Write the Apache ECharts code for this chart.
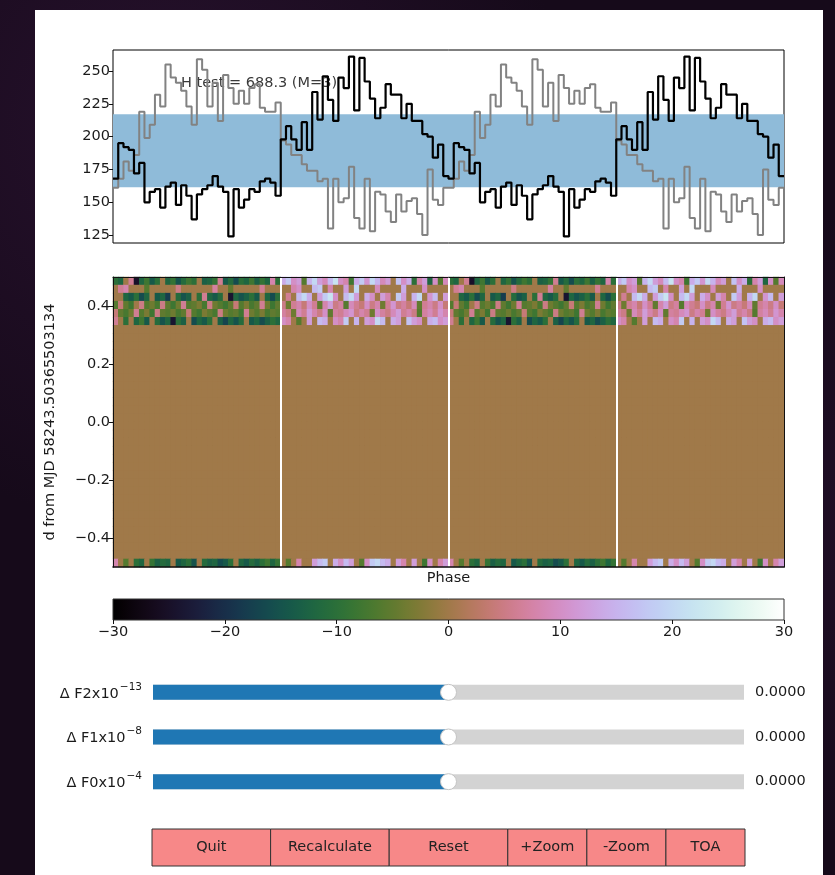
<!DOCTYPE html>
<html>
<head>
<meta charset="utf-8">
<script src="https://cdn.jsdelivr.net/npm/echarts@6/dist/echarts.min.js"></script>
<style>
  html, body { margin: 0; padding: 0; width: 835px; height: 875px; overflow: hidden; }
  body {
    background:
      radial-gradient(circle at 20% 15%, rgba(70, 30, 80, 0.35), transparent 40%),
      radial-gradient(circle at 90% 60%, rgba(60, 25, 70, 0.3), transparent 35%),
      #160a1a;
  }
  #panel { position: absolute; left: 35px; top: 10px; width: 788px; height: 865px; background: #fff; }
  #chart { position: absolute; left: 0; top: 0; width: 835px; height: 875px; }
</style>
</head>
<body>
<div id="panel"></div>
<div id="chart"></div>
<script>
// ---- pulse profile (one rotation, 64 phase bins; shown twice) ----
const profileBins = 64;
const phaseCycles = 2;
const profileCurrent = [
  168,195,192,190,172,180,150,158,160,146,162,165,148,163,155,137,156,160,163,170,162,158,124,160,146,152,160,158,166,168,165,155,
  198,208,198,190,211,190,234,213,246,228,212,245,237,261,220,260,242,229,214,222,240,232,232,214,225,212,212,202,200,184,194,170
];
const profileInitial = [
  161,168,181,174,186,219,199,209,232,223,255,245,241,235,223,209,259,251,223,241,212,247,237,225,235,225,237,240,222,219,219,226,
  197,194,186,186,179,174,174,166,168,130,168,150,153,177,138,130,168,128,158,156,143,135,156,143,151,153,141,125,175,152,148,161
];
const profileRange = [119, 266];
const profileTicks = [125, 150, 175, 200, 225, 250];
const meanBand = [161.5, 217];
const hTestText = 'H test = 688.3 (M=3)';

// ---- phaseogram residuals ----
const timeRows = 36;
const timeRange = [-0.5, 0.5];
const timeTicks = [-0.4, -0.2, 0.0, 0.2, 0.4];
const timeLabel = 'd from MJD 58243.50365503134';
const phaseLabel = 'Phase';
const phaseMarkers = [0.5, 1.0, 1.5];
const filledRows = [0, 1, 2, 3, 4, 5, 35];
const residualRows = [
  [-10,-12,0,6,-25,-12,-8,-14,-10,0,-12,-9,-15,-11,-8,-10,0,-13,-12,-9,6,-14,-11,-16,-10,-12,-8,-13,-9,-12,8,-10,
   14,18,10,12,-6,15,20,12,9,16,22,10,8,-8,14,18,11,20,15,9,12,0,17,10,14,-10,8,12,-12,10,-6,9],
  [0,6,8,0,0,0,-6,0,0,0,0,0,5,0,0,0,0,0,0,7,0,0,-5,0,0,0,0,0,6,0,0,0,
   0,0,8,10,0,0,16,18,0,8,0,0,12,0,20,0,0,0,9,0,0,0,0,14,0,0,0,10,0,0,0,0],
  [0,0,-12,-14,-10,-16,-12,0,-14,-12,-18,0,-11,-15,-13,0,-10,6,-12,-14,-11,0,-24,-12,-15,-13,-10,-14,0,-12,-16,-10,
   0,6,0,16,20,14,0,12,18,22,10,0,16,20,12,0,14,10,0,12,8,0,18,12,0,15,20,0,11,16,0,12],
  [-6,4,-5,-8,0,5,-6,-4,-7,5,-5,-8,-4,6,-6,-5,-3,-7,5,-4,-6,-8,-5,4,-6,-3,-7,-5,6,-4,-8,-5,
   5,-4,6,8,4,10,6,-5,8,12,5,7,-6,9,6,4,10,5,8,-4,6,11,5,7,4,9,-5,6,8,5,10,4],
  [4,-5,-7,-4,6,-6,-3,-8,5,-5,-6,-4,-7,-5,4,-6,-8,-3,-5,-7,5,-4,-6,-5,-8,6,-4,-6,-3,-7,-5,-6,
   7,5,-4,9,6,12,8,5,10,-5,7,6,9,11,5,8,6,-4,10,7,5,9,12,6,8,5,-6,7,9,6,11,8],
  [6,0,-10,0,-12,-8,-14,0,-11,-15,-12,-24,-10,-13,0,-16,-12,-14,-10,0,-13,-17,-12,-15,-11,0,-14,-12,-16,-13,-10,-12,
   10,8,0,-6,0,12,0,16,14,0,10,8,18,0,15,0,12,10,20,16,0,14,12,0,17,12,10,0,14,16,10,12],
  [8,0,-6,0,-10,-12,0,-9,-13,-11,-12,0,-14,-12,-10,-15,0,-11,-13,-12,-16,-14,-10,0,-12,-14,-11,-13,-10,-8,-12,-9,
   0,-6,0,8,0,0,12,16,18,0,14,10,16,12,0,-6,10,18,20,16,14,0,12,8,0,12,0,-8,10,0,8,12]
];
const colorRange = [-30, 30];
const colorTicks = [-30, -20, -10, 0, 10, 20, 30];

// ---- controls ----
const sliderNames = ['F2', 'F1', 'F0'];
const sliderExponents = ['-13', '-8', '-4'];
const sliderValues = [0, 0, 0];
const sliderRange = [-1, 1];
const buttonLabels = ['Quit', 'Recalculate', 'Reset', '+Zoom', '-Zoom', 'TOA'];
const buttonWeights = [3, 3, 3, 2, 2, 2];

// ---- helpers ----
const FONT = 'DejaVu Sans';
const FS = 14.5;
const minus = s => String(s).replace('-', '\u2212');

// matplotlib "cubehelix" colormap (gamma 1, s 0.5, r -1.5, h 1)
function cubehelix(x) {
  const a = x * (1 - x) / 2;
  const phi = 2 * Math.PI * (0.5 / 3 - 1.5 * x);
  const c = Math.cos(phi), s = Math.sin(phi);
  const r = x + a * (-0.14861 * c + 1.78277 * s);
  const g = x + a * (-0.29227 * c - 0.90649 * s);
  const b = x + a * (1.97294 * c);
  const q = v => Math.round(255 * Math.min(1, Math.max(0, v)));
  return 'rgb(' + q(r) + ',' + q(g) + ',' + q(b) + ')';
}
const cmapColors = [];
for (let i = 0; i <= 64; i++) cmapColors.push(cubehelix(i / 64));
const zeroColor = cubehelix(0.5);

function stepPoints(vals) {
  const pts = [];
  for (let k = 0; k < phaseCycles; k++) {
    vals.forEach((v, i) => pts.push([(k * profileBins + i) / profileBins, v]));
  }
  pts.push([phaseCycles, vals[vals.length - 1]]);
  return pts;
}

const nCols = profileBins * phaseCycles;
const colCats = Array.from({ length: nCols }, (_, i) => i);
const rowCats = Array.from({ length: timeRows }, (_, i) => i);
const heatData = [];
for (let r = 0; r < timeRows; r++) {
  const k = filledRows.indexOf(r);
  for (let c = 0; c < nCols; c++) {
    heatData.push([c, r, k >= 0 ? residualRows[k][c % profileBins] : 0]);
  }
}

const colorbarFill = new echarts.graphic.LinearGradient(0, 0, 1, 0,
  cmapColors.map((col, i) => ({ offset: i / (cmapColors.length - 1), color: col })));

const labelStyle = { color: '#1a1a1a', fontFamily: FONT, fontSize: FS };

// slider captions as rich text: "Δ F2x10" with a raised exponent
const sliderCats = sliderNames.map((n, i) => '{b|\u0394 ' + n + 'x10}{s|' + minus(sliderExponents[i]) + '}');
const sliderRich = {
  b: { fontFamily: FONT, fontSize: FS, color: '#1a1a1a', lineHeight: 22, verticalAlign: 'bottom', padding: [0, 0, 2, 0] },
  s: { fontFamily: FONT, fontSize: 10.5, color: '#1a1a1a', lineHeight: 12, verticalAlign: 'top', padding: [0, 0, 0, 1] }
};

// buttons laid out as a row of weighted cells
const btnLeft = 152, btnTop = 829, btnW = 593, btnH = 37;
const wSum = buttonWeights.reduce((a, b) => a + b, 0);
const buttonGraphics = [];
let bx = btnLeft;
buttonLabels.forEach((lab, i) => {
  const w = btnW * buttonWeights[i] / wSum;
  buttonGraphics.push({
    type: 'group', x: bx, y: btnTop,
    children: [
      { type: 'rect', shape: { x: 0, y: 0, width: w, height: btnH },
        style: { fill: '#f78888', stroke: '#333', lineWidth: 1 } },
      { type: 'text', x: w / 2, y: btnH / 2,
        style: { text: lab, fill: '#222', font: FS + 'px "' + FONT + '"', align: 'center', verticalAlign: 'middle' } }
    ]
  });
  bx += w;
});

const chart = echarts.init(document.getElementById('chart'), null, { renderer: 'canvas' });

const option = {
  backgroundColor: 'transparent',
  animation: false,
  textStyle: { fontFamily: FONT },
  grid: [
    { left: 113, top: 50, width: 671, height: 193, show: true, borderColor: '#000', borderWidth: 1, backgroundColor: '#fff' },
    { left: 113, top: 277, width: 671, height: 290, show: true, borderWidth: 0, backgroundColor: zeroColor },
    { left: 113, top: 599, width: 671, height: 21, show: true, borderColor: '#333', borderWidth: 1, backgroundColor: colorbarFill },
    { left: 153, top: 670, width: 591, height: 134 }
  ],
  xAxis: [
    { gridIndex: 0, type: 'value', min: 0, max: phaseCycles, show: false },
    { gridIndex: 1, type: 'category', data: colCats, show: false },
    { gridIndex: 1, type: 'value', min: 0, max: phaseCycles, position: 'bottom', z: 10,
      axisLine: { show: true, onZero: false, lineStyle: { color: '#111', width: 1.5 } },
      axisTick: { show: false }, axisLabel: { show: false }, splitLine: { show: false },
      name: phaseLabel, nameLocation: 'middle', nameGap: 4, nameTextStyle: labelStyle },
    { gridIndex: 1, type: 'value', min: 0, max: phaseCycles, position: 'top', z: 10,
      axisLine: { show: true, onZero: false, lineStyle: { color: '#111', width: 1 } },
      axisTick: { show: false }, axisLabel: { show: false }, splitLine: { show: false } },
    { gridIndex: 2, type: 'value', min: colorRange[0], max: colorRange[1], position: 'bottom',
      axisLine: { show: false, onZero: false },
      axisTick: { show: true, length: 4, inside: false, customValues: colorTicks, lineStyle: { color: '#111' } },
      axisLabel: { show: true, margin: 5, customValues: colorTicks, formatter: v => minus(v), ...labelStyle },
      splitLine: { show: false } },
    { gridIndex: 3, type: 'value', min: sliderRange[0], max: sliderRange[1], show: false }
  ],
  yAxis: [
    { gridIndex: 0, type: 'value', min: profileRange[0], max: profileRange[1],
      axisLine: { show: false, onZero: false },
      axisTick: { show: true, length: 4, inside: false, customValues: profileTicks, lineStyle: { color: '#111' } },
      axisLabel: { show: true, margin: 3, customValues: profileTicks, ...labelStyle },
      splitLine: { show: false } },
    { gridIndex: 1, type: 'category', data: rowCats, inverse: true, show: false },
    { gridIndex: 1, type: 'value', min: timeRange[0], max: timeRange[1], position: 'left', z: 10,
      axisLine: { show: true, onZero: false, lineStyle: { color: '#111', width: 1 } },
      axisTick: { show: true, length: 4, inside: false, customValues: timeTicks, lineStyle: { color: '#111' } },
      axisLabel: { show: true, margin: 3, customValues: timeTicks, formatter: v => minus(v.toFixed(1)), ...labelStyle },
      splitLine: { show: false },
      name: timeLabel, nameLocation: 'middle', nameGap: 55, nameRotate: 90, nameTextStyle: labelStyle },
    { gridIndex: 1, type: 'value', min: timeRange[0], max: timeRange[1], position: 'right', z: 10,
      axisLine: { show: true, onZero: false, lineStyle: { color: '#111', width: 1 } },
      axisTick: { show: false }, axisLabel: { show: false }, splitLine: { show: false } },
    { gridIndex: 2, type: 'value', min: 0, max: 1, show: false },
    { gridIndex: 3, type: 'category', data: sliderCats, inverse: true, position: 'left',
      axisLine: { show: false }, axisTick: { show: false },
      axisLabel: { margin: 11, rich: sliderRich } },
    { gridIndex: 3, type: 'category', data: sliderValues.map(v => v.toFixed(4)), inverse: true, position: 'right',
      axisLine: { show: false }, axisTick: { show: false },
      axisLabel: { margin: 11, ...labelStyle } }
  ],
  visualMap: {
    type: 'continuous', min: colorRange[0], max: colorRange[1], show: false,
    seriesIndex: 3, dimension: 2, inRange: { color: cmapColors }
  },
  graphic: [
    { type: 'text', left: 181, top: 76, z: 1,
      style: { text: hTestText, fill: '#3a3a3a', font: FS + 'px "' + FONT + '"' } },
    ...buttonGraphics
  ],
  series: [
    { // mean +/- band
      type: 'line', xAxisIndex: 0, yAxisIndex: 0, z: 1, silent: true,
      data: [[0, meanBand[0]], [phaseCycles, meanBand[0]]],
      showSymbol: false, lineStyle: { opacity: 0 },
      markArea: { silent: true, itemStyle: { color: '#8fbbd9', opacity: 1 },
        data: [[{ yAxis: meanBand[0] }, { yAxis: meanBand[1] }]] }
    },
    { // starting profile
      type: 'line', xAxisIndex: 0, yAxisIndex: 0, z: 3, silent: true,
      data: stepPoints(profileInitial), step: 'end', showSymbol: false,
      lineStyle: { color: '#828282', width: 2 }
    },
    { // current profile
      type: 'line', xAxisIndex: 0, yAxisIndex: 0, z: 4, silent: true,
      data: stepPoints(profileCurrent), step: 'end', showSymbol: false,
      lineStyle: { color: '#000', width: 2.2 }
    },
    { // phaseogram
      type: 'heatmap', xAxisIndex: 1, yAxisIndex: 1, silent: true, z: 2,
      data: heatData, itemStyle: { borderWidth: 0 }, emphasis: { disabled: true }, progressive: 0
    },
    { // phase markers
      type: 'line', xAxisIndex: 2, yAxisIndex: 2, z: 5, silent: true,
      data: [], showSymbol: false,
      markLine: { silent: true, symbol: 'none', label: { show: false },
        lineStyle: { color: '#fff', width: 2, type: 'solid' },
        data: phaseMarkers.map(v => ({ xAxis: v })) }
    },
    { // sliders
      type: 'custom', xAxisIndex: 5, yAxisIndex: 5, silent: true,
      data: sliderValues.map((v, i) => [v, i]),
      encode: { x: 0, y: 1 },
      renderItem: function (params, api) {
        const v = api.value(0), row = api.value(1);
        const a = api.coord([sliderRange[0], row]);
        const m = api.coord([v, row]);
        const b = api.coord([sliderRange[1], row]);
        const h = 15;
        return {
          type: 'group',
          children: [
            { type: 'rect', shape: { x: a[0], y: a[1] - h / 2, width: b[0] - a[0], height: h }, style: { fill: '#d3d3d3' } },
            { type: 'rect', shape: { x: a[0], y: a[1] - h / 2, width: m[0] - a[0], height: h }, style: { fill: '#1f77b4' } },
            { type: 'circle', shape: { cx: m[0], cy: m[1], r: 8 }, style: { fill: '#fff', stroke: '#c4c4c4', lineWidth: 1 } }
          ]
        };
      }
    }
  ]
};

chart.setOption(option);
</script>
</body>
</html>
